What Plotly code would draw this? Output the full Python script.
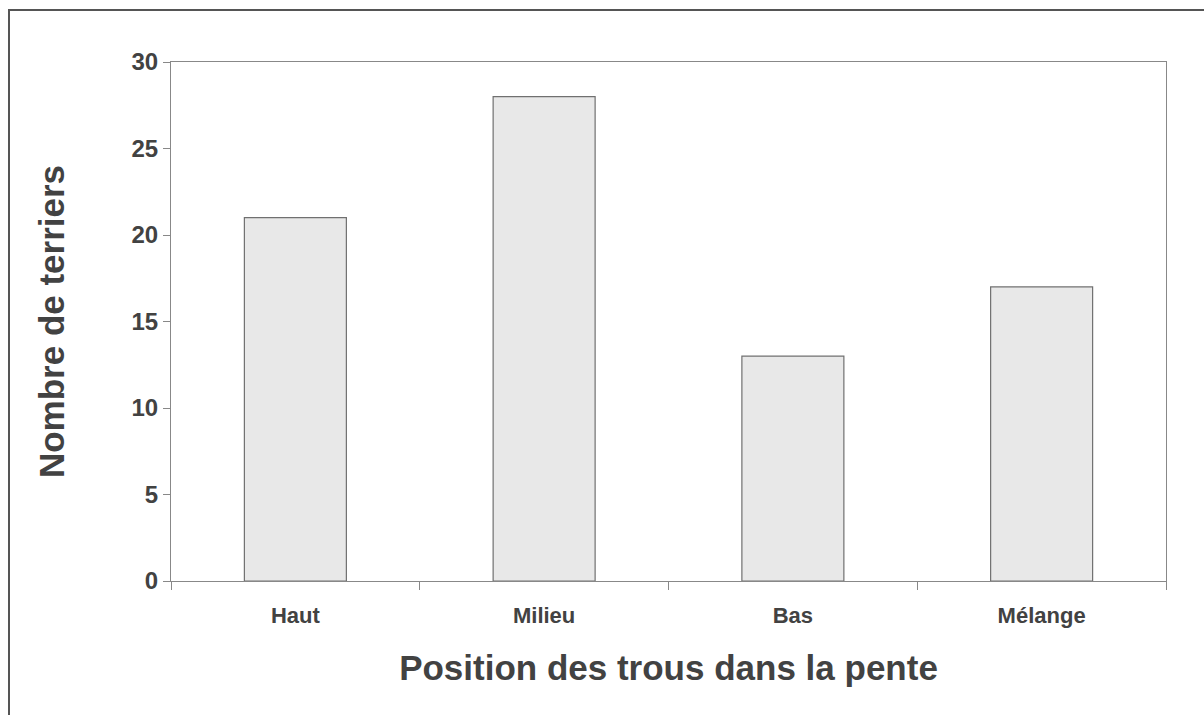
import plotly.graph_objects as go

categories = ["Haut", "Milieu", "Bas", "Mélange"]
values = [21, 28, 13, 17]
y_ticks = [0, 5, 10, 15, 20, 25, 30]

W, H = 1204, 715
L, R, T, B = 171, 38, 62, 134
pw, ph = W - L - R, H - T - B

fig = go.Figure(go.Bar(
    x=categories, y=values,
    marker=dict(color="#e8e8e8", line=dict(color="#707070", width=1.2)),
    width=0.41,
))

font_col = "#424242"
fam = "Liberation Sans, Arial, sans-serif"

fig.update_layout(
    width=W, height=H,
    margin=dict(l=L, r=R, t=T, b=B),
    paper_bgcolor="white", plot_bgcolor="white",
    showlegend=False,
    font=dict(family=fam, color=font_col),
    xaxis=dict(
        showline=True, linecolor="#888888", linewidth=1.2, mirror=True,
        ticks="outside", ticklen=8, tickcolor="#888888", tickson="boundaries",
        ticklabelstandoff=14,
        tickfont=dict(size=22, family=fam, color=font_col, weight="bold"),
        title=dict(text="<b>Position des trous dans la pente</b>",
                   font=dict(size=35, family=fam, color=font_col), standoff=28),
        showgrid=False, range=[-0.5, 3.5],
    ),
    yaxis=dict(
        range=[0, 30], tickvals=y_ticks,
        showline=True, linecolor="#888888", linewidth=1.2, mirror=True,
        ticks="outside", ticklen=7, tickcolor="#888888",
        tickfont=dict(size=24, family=fam, color=font_col, weight="bold"),
        title=dict(text="<b>Nombre de terriers</b>",
                   font=dict(size=35, family=fam, color=font_col), standoff=56),
        showgrid=False, zeroline=False,
    ),
)

fig.add_shape(type="rect", xref="paper", yref="paper",
              x0=(9 - L) / pw, x1=(1215 - L) / pw,
              y0=(H - B - 720) / ph, y1=(H - B - 10) / ph,
              line=dict(color="#555555", width=2), layer="below")

fig.write_html("out.html", config={"displayModeBar": False},
               post_script="document.body.style.margin='0';")
